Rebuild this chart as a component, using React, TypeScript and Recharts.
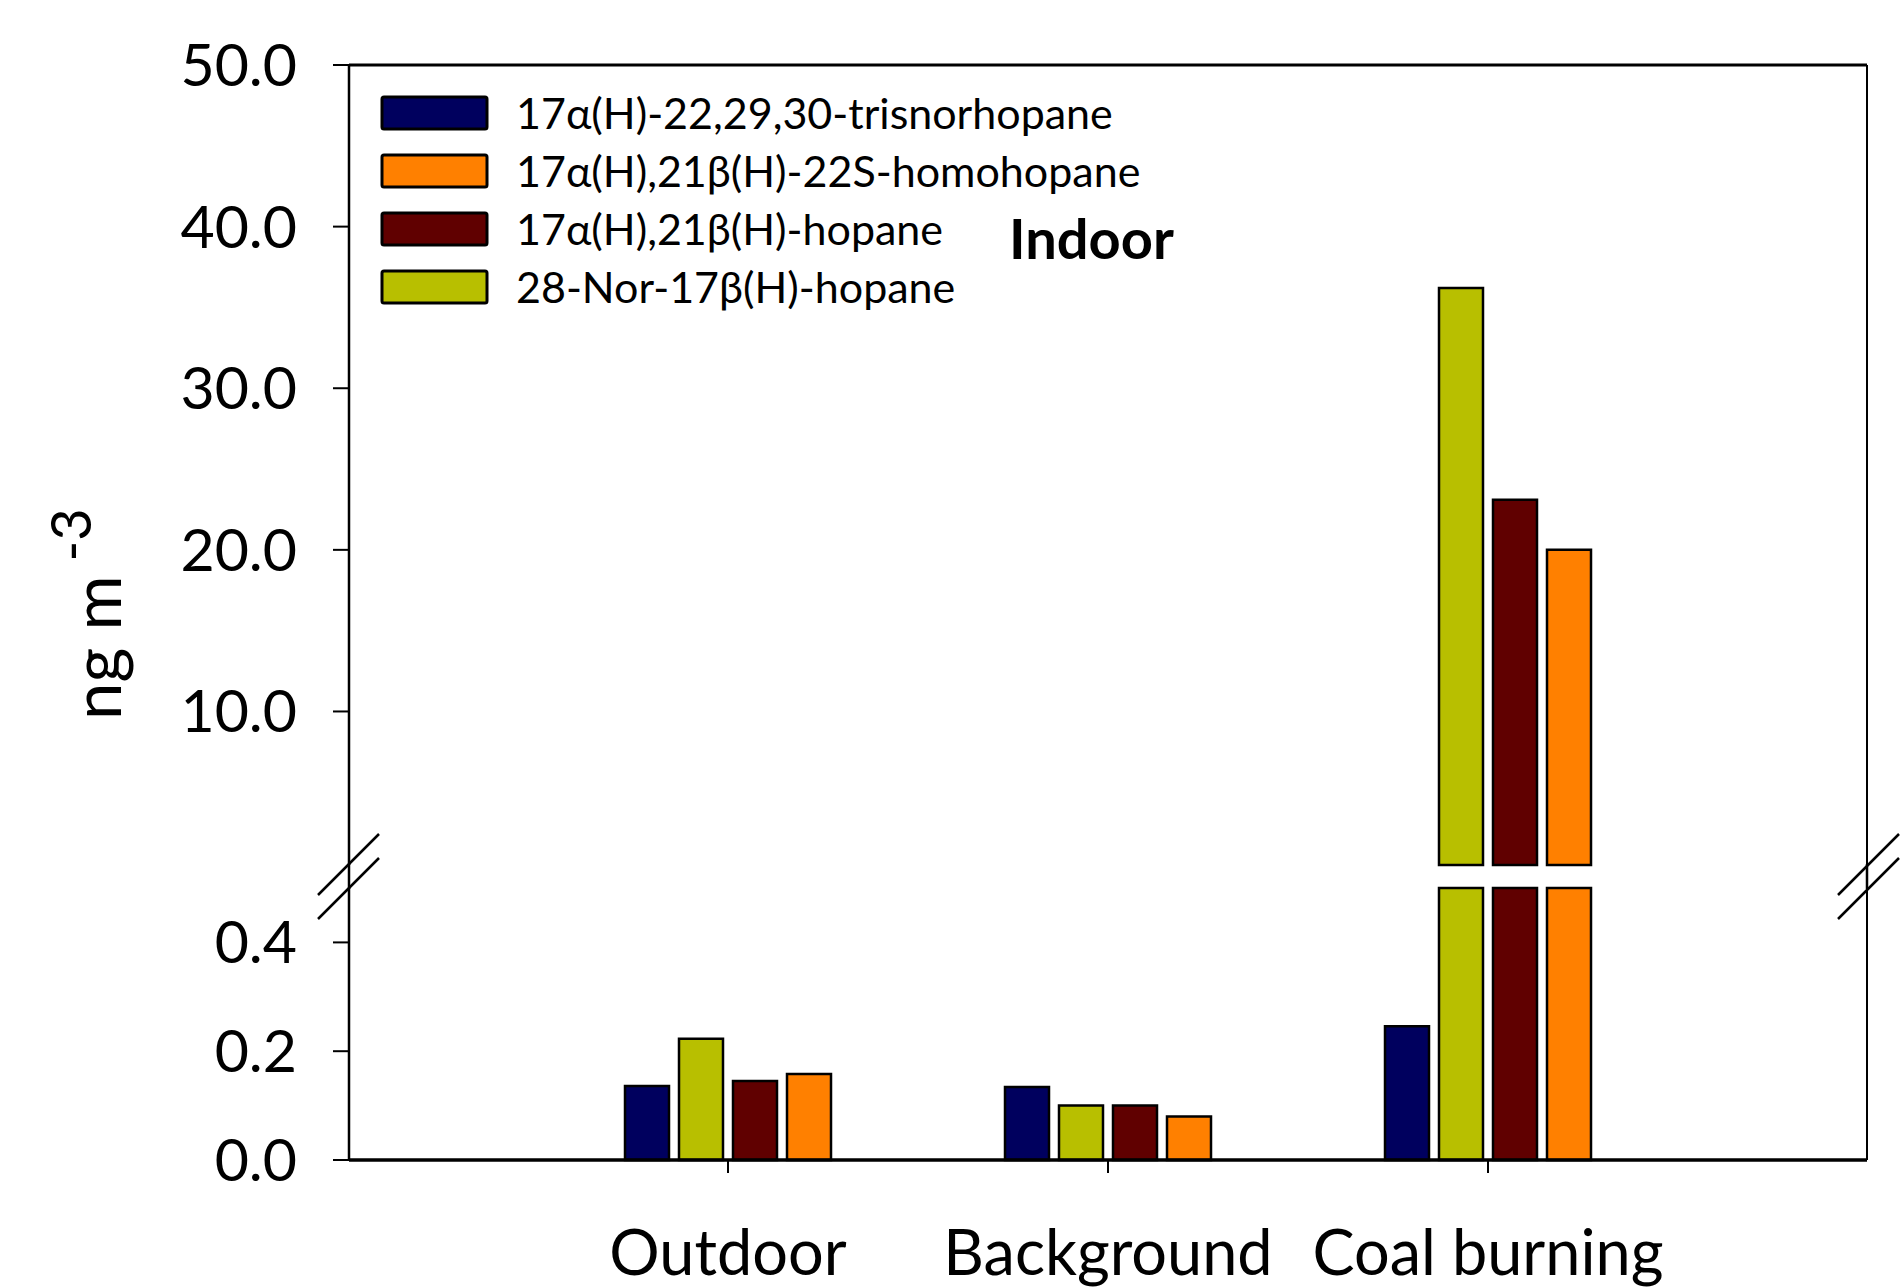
import React from 'react';
import { BarChart, Bar, XAxis, YAxis } from 'recharts';

// groups along the x axis
const categories = ['Outdoor', 'Background', 'Coal burning'];

// ng m-3 (bar order inside each group)
const trisnorhopane = [0.136, 0.134, 0.246];
const norHopane = [0.223, 0.1, 36.2];
const hopane = [0.145, 0.1, 23.1];
const homohopane = [0.158, 0.08, 20.0];

const upperTicks = [10, 20, 30, 40, 50];
const lowerTicks = [0, 0.2, 0.4];
const BREAK = 0.5;

const series = [
  { key: 'tris', name: '17α(H)-22,29,30-trisnorhopane', color: '#00005E', values: trisnorhopane },
  { key: 'nor', name: '28-Nor-17β(H)-hopane', color: '#B8BF00', values: norHopane },
  { key: 'hop', name: '17α(H),21β(H)-hopane', color: '#600000', values: hopane },
  { key: 'homo', name: '17α(H),21β(H)-22S-homohopane', color: '#FF8000', values: homohopane },
];

// legend lists them in a different order than the bars
const legendOrder = ['tris', 'homo', 'hop', 'nor'];

const lowerData = categories.map((c, i) => {
  const row: Record<string, any> = { name: c };
  series.forEach((s) => (row[s.key] = Math.min(s.values[i], BREAK)));
  return row;
});

const upperData = categories.map((c, i) => {
  const row: Record<string, any> = { name: c };
  series.forEach((s) => (row[s.key] = s.values[i] > BREAK ? s.values[i] : null));
  return row;
});

const FONT = 'Lato, "Open Sans", sans-serif';
const yTickStyle = { fontSize: 59, fill: '#000', fontFamily: FONT };
const xTickStyle = { fontSize: 63, fill: '#000', fontFamily: FONT };
const xPad = { left: 189, right: 189 };

const App: React.FC = () => {
  return (
    <div style={{ position: 'absolute', left: 0, top: 0, width: 1900, height: 1287, background: '#fff', fontFamily: FONT }}>
      {/* upper segment 0.5 - 50 */}
      <div style={{ position: 'absolute', left: 0, top: 0 }}>
        <BarChart
          width={1900}
          height={880}
          data={upperData}
          margin={{ top: 64, right: 32, bottom: 15, left: 249 }}
          barSize={44}
          barGap={10}
        >
          <XAxis
            dataKey="name"
            orientation="top"
            height={1}
            tick={false}
            tickLine={false}
            axisLine={{ stroke: '#000', strokeWidth: 3 }}
            padding={xPad}
          />
          <YAxis
            yAxisId="v"
            type="number"
            domain={[BREAK, 50]}
            ticks={upperTicks}
            tickFormatter={(v) => Number(v).toFixed(1)}
            width={100}
            tickSize={16}
            tickMargin={36}
            tick={yTickStyle}
            tickLine={{ stroke: '#000', strokeWidth: 2 }}
            axisLine={{ stroke: '#000', strokeWidth: 2.5 }}
          />
          <YAxis
            yAxisId="r"
            orientation="right"
            width={1}
            tick={false}
            tickLine={false}
            axisLine={{ stroke: '#000', strokeWidth: 2 }}
          />
          {series.map((s) => (
            <Bar
              key={s.key}
              yAxisId="v"
              dataKey={s.key}
              name={s.name}
              fill={s.color}
              stroke="#000"
              strokeWidth={2.5}
              isAnimationActive={false}
            />
          ))}
        </BarChart>
      </div>

      {/* lower segment 0 - 0.5 */}
      <div style={{ position: 'absolute', left: 0, top: 0 }}>
        <BarChart
          width={1900}
          height={1287}
          data={lowerData}
          margin={{ top: 888, right: 32, bottom: 27, left: 249 }}
          barSize={44}
          barGap={10}
        >
          <XAxis
            dataKey="name"
            height={100}
            interval={0}
            tickSize={13}
            tickMargin={57}
            tick={xTickStyle}
            tickLine={{ stroke: '#000', strokeWidth: 2 }}
            axisLine={{ stroke: '#000', strokeWidth: 3.5 }}
            padding={xPad}
          />
          <YAxis
            yAxisId="v"
            type="number"
            domain={[0, BREAK]}
            ticks={lowerTicks}
            tickFormatter={(v) => Number(v).toFixed(1)}
            width={100}
            tickSize={16}
            tickMargin={36}
            tick={yTickStyle}
            tickLine={{ stroke: '#000', strokeWidth: 2 }}
            axisLine={{ stroke: '#000', strokeWidth: 2.5 }}
          />
          <YAxis
            yAxisId="r"
            orientation="right"
            width={1}
            tick={false}
            tickLine={false}
            axisLine={{ stroke: '#000', strokeWidth: 2 }}
          />
          {series.map((s) => (
            <Bar
              key={s.key}
              yAxisId="v"
              dataKey={s.key}
              name={s.name}
              fill={s.color}
              stroke="#000"
              strokeWidth={2.5}
              isAnimationActive={false}
            />
          ))}
        </BarChart>
      </div>

      {/* decorations: break marks, axis title, legend, panel label */}
      <svg
        width={1900}
        height={1287}
        style={{ position: 'absolute', left: 0, top: 0, pointerEvents: 'none' }}
      >
        <g stroke="#000" strokeWidth={2.5}>
          <line x1={349} y1={864} x2={349} y2={889} />
          <line x1={1867} y1={864} x2={1867} y2={889} />
          <line x1={318} y1={895} x2={379} y2={834} />
          <line x1={318} y1={919} x2={379} y2={858} />
          <line x1={1838} y1={895} x2={1899} y2={834} />
          <line x1={1838} y1={919} x2={1899} y2={858} />
        </g>

        <text transform="translate(121,720) rotate(-90)" fontSize={67} fontFamily={FONT} fill="#000">
          ng m
          <tspan dx={14} dy={-30} fontSize={56}>-3</tspan>
        </text>

        <text x={1009} y={259} fontSize={56} fontWeight="bold" fontFamily={FONT} fill="#000">
          Indoor
        </text>

        {legendOrder.map((k, i) => {
          const s = series.find((d) => d.key === k)!;
          return (
            <g key={k}>
              <rect x={382} y={97 + i * 58} width={105} height={32} rx={2} fill={s.color} stroke="#000" strokeWidth={3} />
              <text x={516} y={129 + i * 58} fontSize={43} fontFamily={FONT} fill="#000">
                {s.name}
              </text>
            </g>
          );
        })}
      </svg>
    </div>
  );
};

export default App;
